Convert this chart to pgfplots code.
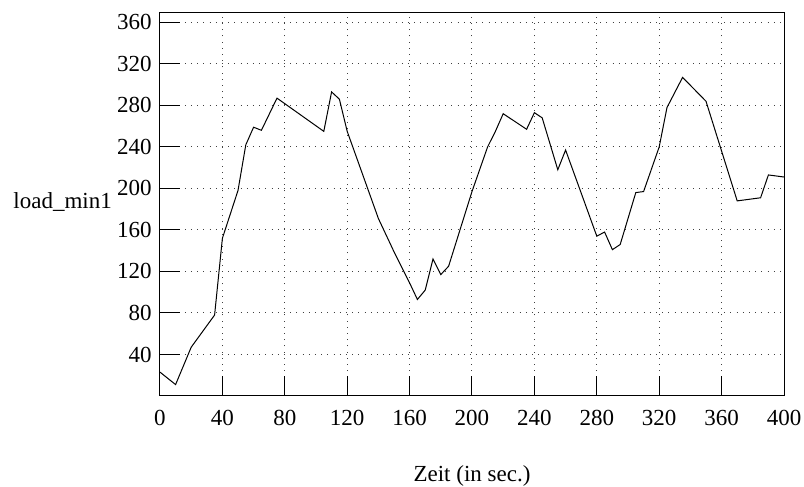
\documentclass[border=0pt]{standalone}
\usepackage{fontspec}
\setmainfont{Liberation Serif}
\usepackage{pgfplots}
\pgfplotsset{compat=1.18}

\pgfplotstableread{
t load
0 23
10 11
20 47
35 78
40 152
50 198
55 242
60 259
65 256
75 287
90 271
105 255
110 293
115 286
120 255
130 213
140 171
150 139
160 109
165 93
170 102
175 132
180 117
185 125
200 197
210 240
215 255
220 272
235 257
240 273
245 268
255 218
260 237
280 154
285 158
290 141
295 146
305 196
310 197
320 240
325 278
335 307
350 284
370 188
385 191
390 213
400 211
}\loadtable

\newcommand{\lblfont}{\fontsize{11.5}{14}\selectfont}

\begin{document}
\begin{tikzpicture}
\path[use as bounding box] (-80pt,-45.5pt) rectangle (322pt,198pt);
\begin{axis}[
    at={(0,0)}, anchor=south west,
    scale only axis,
    width=312pt, height=192pt,
    xmin=0, xmax=400,
    ymin=0, ymax=370,
    xtick={0,40,...,400},
    ytick={40,80,...,360},
    xtick pos=left, ytick pos=left,
    tick align=inside,
    major tick length=10pt,
    axis line style={line width=0.5pt},
    tick style={line width=0.5pt, black},
    grid=major,
    grid style={black!75, line width=0.5pt, dash pattern=on 0.5pt off 2.6pt},
    /pgf/number format/assume math mode=true,
    tick label style={font=\lblfont},
    xticklabel style={anchor=north, inner sep=0pt, yshift=-7pt},
    yticklabel style={anchor=east, inner sep=0pt, xshift=-4pt},
    xlabel={Zeit (in sec.)},
    ylabel={load\_min1},
    every axis x label/.style={at={(axis description cs:0.5,0)}, anchor=north, inner sep=0pt, yshift=-34.5pt, font=\lblfont},
    every axis y label/.style={at={(axis description cs:0,0.487)}, anchor=base west, inner sep=0pt, xshift=-73.5pt, font=\lblfont},
]
\addplot[black, line width=0.5pt, mark=none] table[x=t, y=load] {\loadtable};
\end{axis}
\end{tikzpicture}
\end{document}
